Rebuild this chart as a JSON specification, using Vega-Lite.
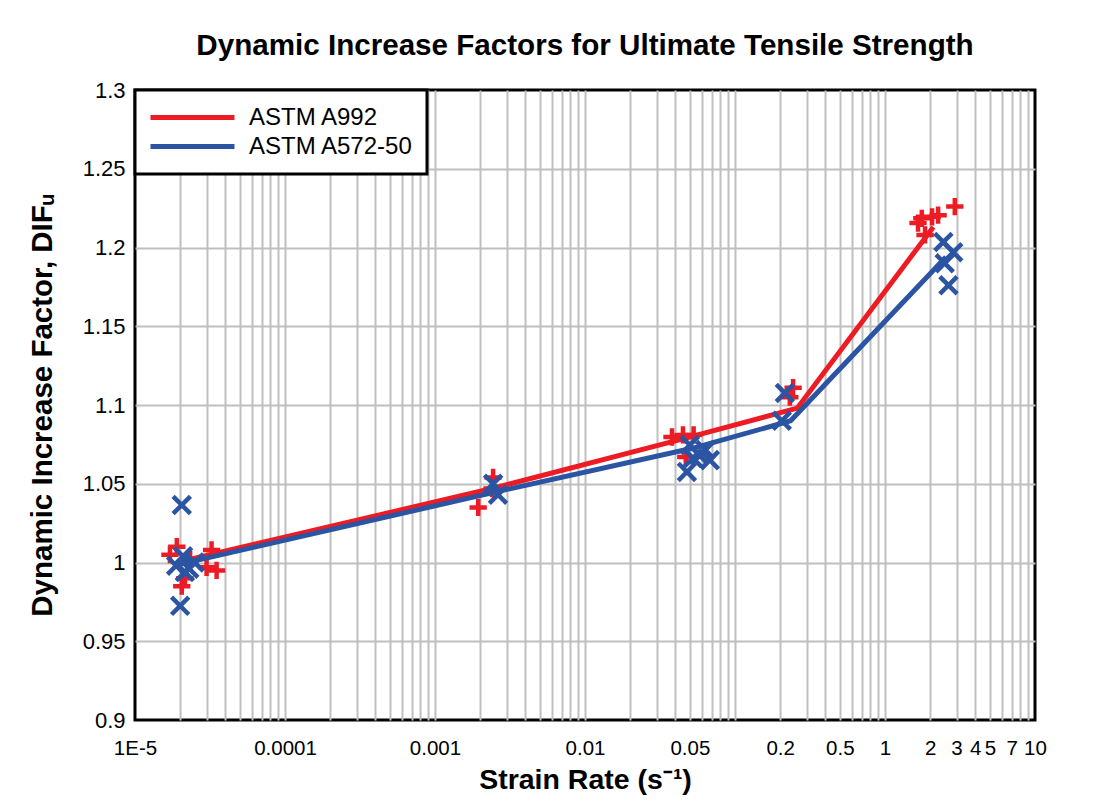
{
  "$schema": "https://vega.github.io/schema/vega-lite/v6.json",
  "width": 900,
  "height": 630,
  "autosize": {"type": "none"},
  "padding": {"left": 135, "top": 90, "right": 74, "bottom": 92},
  "background": "white",
  "title": {
    "text": "Dynamic Increase Factors for Ultimate Tensile Strength",
    "font": "Liberation Sans",
    "fontSize": 29.6,
    "fontWeight": "bold",
    "color": "black",
    "anchor": "middle",
    "offset": 17
  },
  "datasets": {
    "tests": [
      {"steel": "ASTM A992", "rate": 0.0000171, "dif": 1.005},
      {"steel": "ASTM A992", "rate": 0.000019, "dif": 1.010},
      {"steel": "ASTM A992", "rate": 0.0000205, "dif": 0.985},
      {"steel": "ASTM A992", "rate": 0.0000215, "dif": 0.990},
      {"steel": "ASTM A992", "rate": 0.0000233, "dif": 1.002},
      {"steel": "ASTM A992", "rate": 0.00003, "dif": 0.997},
      {"steel": "ASTM A992", "rate": 0.0000324, "dif": 1.008},
      {"steel": "ASTM A992", "rate": 0.000035, "dif": 0.995},
      {"steel": "ASTM A992", "rate": 0.00194, "dif": 1.035},
      {"steel": "ASTM A992", "rate": 0.00244, "dif": 1.054},
      {"steel": "ASTM A992", "rate": 0.0024, "dif": 1.047},
      {"steel": "ASTM A992", "rate": 0.038, "dif": 1.0797},
      {"steel": "ASTM A992", "rate": 0.045, "dif": 1.081},
      {"steel": "ASTM A992", "rate": 0.053, "dif": 1.081},
      {"steel": "ASTM A992", "rate": 0.047, "dif": 1.067},
      {"steel": "ASTM A992", "rate": 0.244, "dif": 1.111},
      {"steel": "ASTM A992", "rate": 0.232, "dif": 1.105},
      {"steel": "ASTM A992", "rate": 1.66, "dif": 1.2155},
      {"steel": "ASTM A992", "rate": 1.76, "dif": 1.2185},
      {"steel": "ASTM A992", "rate": 1.85, "dif": 1.208},
      {"steel": "ASTM A992", "rate": 2.06, "dif": 1.2195},
      {"steel": "ASTM A992", "rate": 2.26, "dif": 1.2205},
      {"steel": "ASTM A992", "rate": 2.92, "dif": 1.226},
      {"steel": "ASTM A572-50", "rate": 0.0000205, "dif": 1.0365},
      {"steel": "ASTM A572-50", "rate": 0.00002, "dif": 0.9725},
      {"steel": "ASTM A572-50", "rate": 0.0000188, "dif": 0.998},
      {"steel": "ASTM A572-50", "rate": 0.0000215, "dif": 0.994},
      {"steel": "ASTM A572-50", "rate": 0.000025, "dif": 1.0},
      {"steel": "ASTM A572-50", "rate": 0.0000209, "dif": 1.004},
      {"steel": "ASTM A572-50", "rate": 0.000023, "dif": 0.996},
      {"steel": "ASTM A572-50", "rate": 0.00263, "dif": 1.043},
      {"steel": "ASTM A572-50", "rate": 0.00244, "dif": 1.050},
      {"steel": "ASTM A572-50", "rate": 0.0478, "dif": 1.0575},
      {"steel": "ASTM A572-50", "rate": 0.0524, "dif": 1.0663},
      {"steel": "ASTM A572-50", "rate": 0.058, "dif": 1.068},
      {"steel": "ASTM A572-50", "rate": 0.0634, "dif": 1.0714},
      {"steel": "ASTM A572-50", "rate": 0.068, "dif": 1.065},
      {"steel": "ASTM A572-50", "rate": 0.05, "dif": 1.0746},
      {"steel": "ASTM A572-50", "rate": 0.215, "dif": 1.1076},
      {"steel": "ASTM A572-50", "rate": 0.205, "dif": 1.090},
      {"steel": "ASTM A572-50", "rate": 2.45, "dif": 1.2035},
      {"steel": "ASTM A572-50", "rate": 2.85, "dif": 1.197},
      {"steel": "ASTM A572-50", "rate": 2.5, "dif": 1.190},
      {"steel": "ASTM A572-50", "rate": 2.65, "dif": 1.176}
    ],
    "fit": [
      {"steel": "ASTM A992", "rate": 0.00002, "dif": 1.0005},
      {"steel": "ASTM A992", "rate": 0.0024, "dif": 1.047},
      {"steel": "ASTM A992", "rate": 0.047, "dif": 1.079},
      {"steel": "ASTM A992", "rate": 0.26, "dif": 1.098},
      {"steel": "ASTM A992", "rate": 2.1, "dif": 1.213},
      {"steel": "ASTM A572-50", "rate": 0.00002, "dif": 0.999},
      {"steel": "ASTM A572-50", "rate": 0.0026, "dif": 1.045},
      {"steel": "ASTM A572-50", "rate": 0.052, "dif": 1.0725},
      {"steel": "ASTM A572-50", "rate": 0.235, "dif": 1.090},
      {"steel": "ASTM A572-50", "rate": 2.55, "dif": 1.194}
    ]
  },
  "encoding": {
    "x": {
      "field": "rate",
      "type": "quantitative",
      "scale": {"type": "log", "domain": [0.00001, 10], "nice": false},
      "axis": {
        "title": "Strain Rate (s⁻¹)",
        "titleFontSize": 28.5,
        "titlePadding": 7,
        "values": [0.00001, 0.00002, 0.00003, 0.00004, 0.00005, 0.00006, 0.00007, 0.00008, 0.00009,
                   0.0001, 0.0002, 0.0003, 0.0004, 0.0005, 0.0006, 0.0007, 0.0008, 0.0009,
                   0.001, 0.002, 0.003, 0.004, 0.005, 0.006, 0.007, 0.008, 0.009,
                   0.01, 0.02, 0.03, 0.04, 0.05, 0.06, 0.07, 0.08, 0.09,
                   0.1, 0.2, 0.3, 0.4, 0.5, 0.6, 0.7, 0.8, 0.9,
                   1, 2, 3, 4, 5, 6, 7, 8, 9, 10],
        "labelExpr": "datum.value == 0.00001 ? '1E-5' : indexof([0.0001, 0.001, 0.01, 0.05, 0.2, 0.5, 1, 2, 3, 4, 5, 7, 10], datum.value) >= 0 ? toString(datum.value) : ''",
        "labelFontSize": 20.5,
        "labelPadding": 18,
        "labelOverlap": false,
        "labelBound": false,
        "labelFlush": false,
        "gridOpacity": {"condition": {"test": "datum.value == 0.00001 || datum.value == 10", "value": 0}, "value": 1}
      }
    },
    "y": {
      "field": "dif",
      "type": "quantitative",
      "scale": {"domain": [0.9, 1.3], "zero": false, "nice": false},
      "axis": {
        "title": "Dynamic Increase Factor, DIFᵤ",
        "titleFontSize": 29.5,
        "titlePadding": 25,
        "values": [0.9, 0.95, 1, 1.05, 1.1, 1.15, 1.2, 1.25, 1.3],
        "labelExpr": "toString(datum.value)",
        "labelFontSize": 22,
        "labelPadding": 10,
        "gridOpacity": {"condition": {"test": "datum.value == 0.9 || datum.value == 1.3", "value": 0}, "value": 1}
      }
    }
  },
  "layer": [
    {
      "data": {"name": "fit"},
      "transform": [{"filter": "datum.steel == 'ASTM A992'"}],
      "mark": {"type": "line", "strokeWidth": 5},
      "encoding": {
        "color": {
          "field": "steel",
          "type": "nominal",
          "scale": {"domain": ["ASTM A992", "ASTM A572-50"], "range": ["#ED1C24", "#2B54A3"]},
          "legend": {
            "title": null,
            "orient": "top-left",
            "offset": 0,
            "padding": 13,
            "fillColor": "white",
            "strokeColor": "black",
            "cornerRadius": 0,
            "symbolType": "stroke",
            "symbolSize": 7056,
            "symbolStrokeWidth": 5,
            "labelFont": "Liberation Sans",
            "labelFontSize": 24,
            "labelColor": "black",
            "labelOffset": 12,
            "clipHeight": 29,
            "rowPadding": 0,
            "labelLimit": 400,
            "encode": {"legend": {"update": {"strokeWidth": {"value": 3}}}}
          }
        }
      }
    },
    {
      "data": {"name": "tests"},
      "transform": [{"filter": "datum.steel == 'ASTM A992'"}],
      "mark": {"type": "point", "shape": "M-1,0L1,0M0,-1L0,1", "filled": false, "stroke": "#ED1C24", "strokeWidth": 4.5, "size": 300, "opacity": 1}
    },
    {
      "data": {"name": "fit"},
      "transform": [{"filter": "datum.steel == 'ASTM A572-50'"}],
      "mark": {"type": "line", "strokeWidth": 5},
      "encoding": {
        "color": {"field": "steel", "type": "nominal"}
      }
    },
    {
      "data": {"name": "tests"},
      "transform": [{"filter": "datum.steel == 'ASTM A572-50'"}],
      "mark": {"type": "point", "shape": "M-1,-1L1,1M-1,1L1,-1", "filled": false, "stroke": "#2B54A3", "strokeWidth": 4.5, "size": 300, "opacity": 1}
    }
  ],
  "config": {
    "view": {"stroke": "black", "strokeWidth": 3},
    "axis": {
      "domain": false,
      "ticks": false,
      "grid": true,
      "gridColor": "#BFBFBF",
      "gridWidth": 2,
      "labelColor": "black",
      "labelFont": "Liberation Sans",
      "titleColor": "black",
      "titleFont": "Liberation Sans",
      "titleFontWeight": "bold"
    }
  }
}
